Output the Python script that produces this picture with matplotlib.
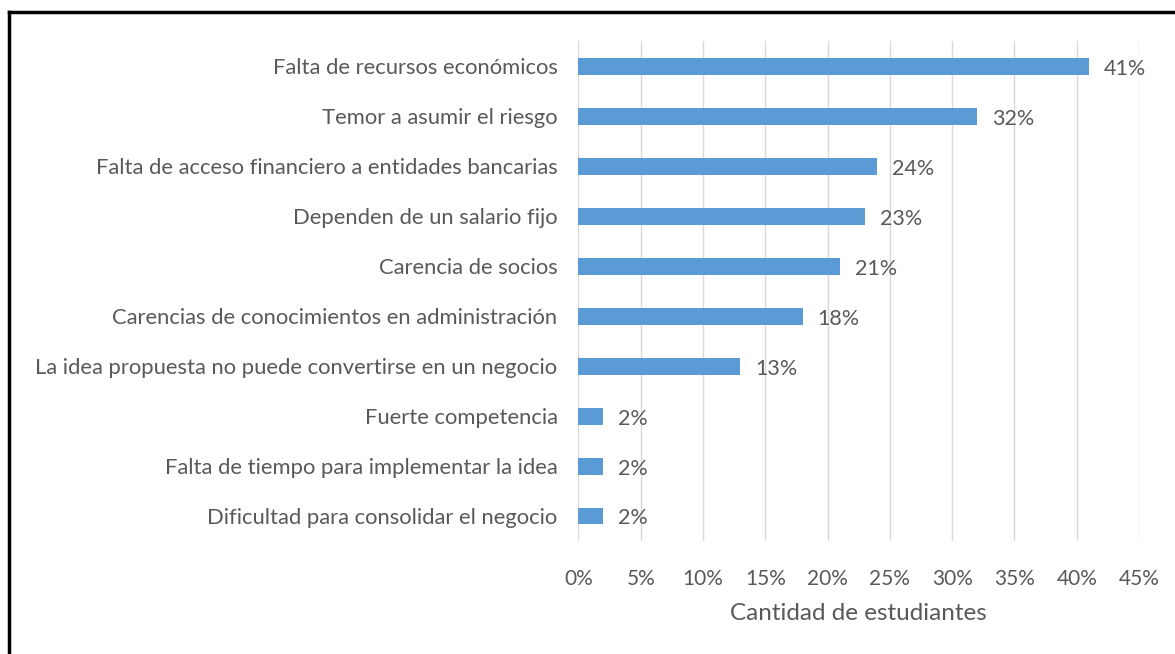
import matplotlib.pyplot as plt
from matplotlib.lines import Line2D

categories = ['Falta de recursos económicos',
              'Temor a asumir el riesgo',
              'Falta de acceso financiero a entidades bancarias',
              'Dependen de un salario fijo',
              'Carencia de socios',
              'Carencias de conocimientos en administración',
              'La idea propuesta no puede convertirse en un negocio',
              'Fuerte competencia',
              'Falta de tiempo para implementar la idea',
              'Dificultad para consolidar el negocio']
values = [41, 32, 24, 23, 21, 18, 13, 2, 2, 2]
ticks = [0, 5, 10, 15, 20, 25, 30, 35, 40, 45]
tick_labels = [str(t) + '%' for t in ticks]

plt.rcParams['font.family'] = ['Lato', 'DejaVu Sans']
txt = '#595959'

fig = plt.figure(figsize=(11.75, 6.54), dpi=100)
ax = fig.add_axes([0.4923, 0.1728, 0.4771, 0.7642])

pos = list(range(len(categories)))
ax.barh(pos, values, height=0.34, color='#5B9BD5', zorder=3)
for p, v in zip(pos, values):
  ax.text(v + 1.2, p + 0.05, str(v) + '%', va='center', ha='left', fontsize=15.5, color=txt)

ax.set_ylim(len(categories) - 0.5, -0.5)
ax.set_xlim(0, 45)
ax.set_yticks(pos)
ax.set_yticklabels(categories, fontsize=15.8, color=txt)
ax.set_xticks(ticks)
ax.set_xticklabels(tick_labels, fontsize=15, color=txt)
ax.tick_params(axis='both', length=0)
ax.tick_params(axis='y', pad=15)
ax.tick_params(axis='x', pad=20)
ax.grid(axis='x', color='#D9D9D9', linewidth=1, zorder=0)
for s in ax.spines.values():
  s.set_visible(False)
ax.set_xlabel('Cantidad de estudiantes', fontsize=17.5, color=txt, labelpad=10)

# black frame (right and bottom edges are cut off in the original)
fig.add_artist(Line2D([9/1175, 9/1175], [0, 1 - 12/654], color='black', linewidth=2.5))
fig.add_artist(Line2D([9/1175, 1], [1 - 12/654, 1 - 12/654], color='black', linewidth=2.5))

plt.savefig('out.png', dpi=100)
